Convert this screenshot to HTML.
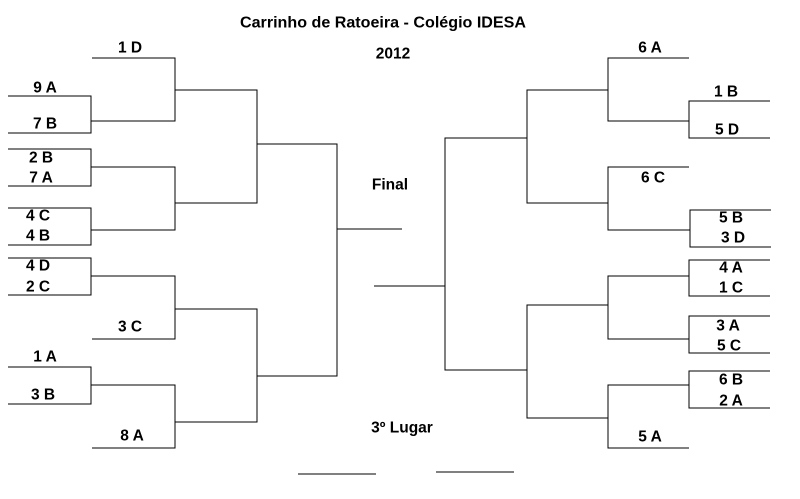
<!DOCTYPE html>
<html><head><meta charset="utf-8"><style>
html,body{margin:0;padding:0;background:#fff;}
svg{display:block;}
text{font-family:"Liberation Sans",Arial,sans-serif;font-weight:bold;font-size:15.5px;fill:#000;text-anchor:middle;dominant-baseline:central;}
</style></head><body>
<svg width="800" height="499" viewBox="0 0 800 499" xmlns="http://www.w3.org/2000/svg">
<g stroke="#000" stroke-width="1.4" fill="none" shape-rendering="crispEdges">
<path d="M92 58H175V121H91"/>
<path d="M8 96H91V133H8"/>
<path d="M175 90H257V203H175"/>
<path d="M8 149H91V186H8"/>
<path d="M91 167H175V230H91"/>
<path d="M8 208H91V245H8"/>
<path d="M257 144H337V376H257"/>
<path d="M337 229H402"/>
<path d="M8 258H91V295H8"/>
<path d="M91 276H175V339H92"/>
<path d="M175 309H257V422H175"/>
<path d="M8 367H91V404H8"/>
<path d="M91 385H175V448H92"/>
<path d="M374 286H445"/>
<path d="M527 138H445V370H527"/>
<path d="M298 474H376"/>
<path d="M436 472H514"/>
<path d="M608 90H527V203H608"/>
<path d="M689 58H608V121H689"/>
<path d="M770 101H689V138H770"/>
<path d="M689 167H608V230H690"/>
<path d="M771 210H690V247H771"/>
<path d="M608 305H527V418H608"/>
<path d="M689 276H608V339H689"/>
<path d="M770 260H689V296H770"/>
<path d="M770 316H689V353H770"/>
<path d="M689 385H608V448H689"/>
<path d="M770 371H689V408H770"/>
</g>
<text x="383" y="23" textLength="286" lengthAdjust="spacingAndGlyphs">Carrinho de Ratoeira  - Colégio IDESA</text>
<text x="393" y="54">2012</text>
<text x="390" y="185">Final</text>
<text x="402" y="428">3º Lugar</text>
<text x="130" y="48">1 D</text>
<text x="45" y="88">9 A</text>
<text x="45" y="124">7 B</text>
<text x="41" y="158">2 B</text>
<text x="41" y="178">7 A</text>
<text x="38" y="216">4 C</text>
<text x="38" y="236">4 B</text>
<text x="38" y="266">4 D</text>
<text x="38" y="287">2 C</text>
<text x="130" y="327">3 C</text>
<text x="45" y="357">1 A</text>
<text x="43" y="395">3 B</text>
<text x="132" y="436">8 A</text>
<text x="650" y="48">6 A</text>
<text x="726" y="92">1 B</text>
<text x="727" y="130">5 D</text>
<text x="653" y="178">6 C</text>
<text x="731" y="218">5 B</text>
<text x="733" y="238">3 D</text>
<text x="731" y="268">4 A</text>
<text x="731" y="288">1 C</text>
<text x="728" y="326">3 A</text>
<text x="729" y="346">5 C</text>
<text x="731" y="380">6 B</text>
<text x="731" y="401">2 A</text>
<text x="650" y="437">5 A</text>
</svg>
</body></html>
